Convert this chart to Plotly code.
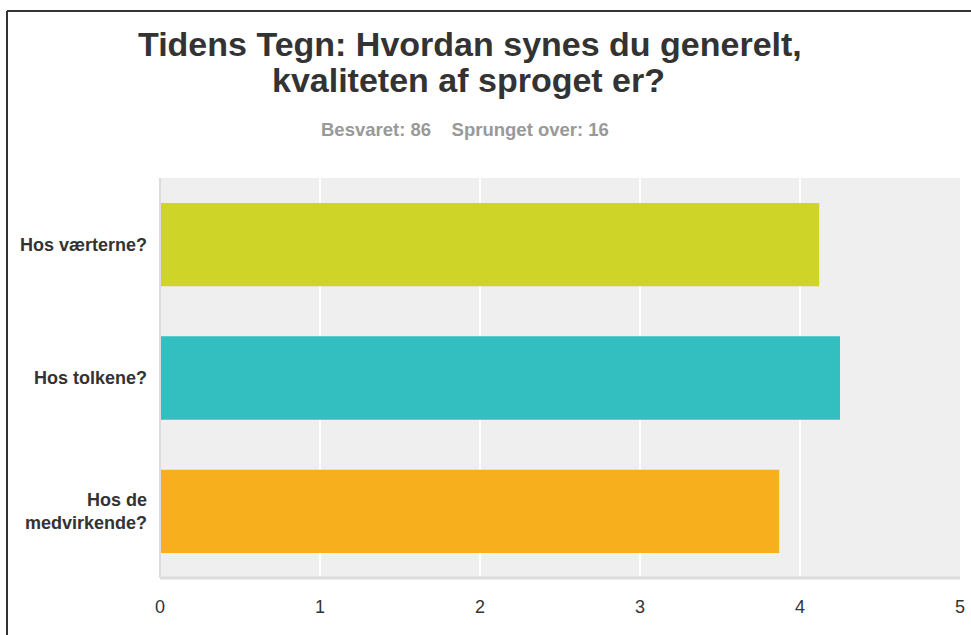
import plotly.graph_objects as go

categories = ["Hos værterne?", "Hos tolkene?", "Hos de<br>medvirkende?"]
values = [4.12, 4.25, 3.87]
colors = ["#cfd428", "#33bec0", "#f7af1e"]
x_ticks = [0, 1, 2, 3, 4, 5]
title_lines = ["Tidens Tegn: Hvordan synes du generelt,", "kvaliteten af sproget er?"]
subtitle = "Besvaret: 86&nbsp;&nbsp;&nbsp;&nbsp;Sprunget over: 16"

W, H = 971, 635
L, R, T, B = 160, 11, 178, 57
pw, ph = W - L - R, H - T - B

def px(x):
    return (x - L) / pw

def py(y):
    return (H - B - y) / ph

fig = go.Figure(go.Bar(
    y=categories, x=values, orientation="h",
    marker=dict(color=colors, line=dict(width=0)),
    hoverinfo="x+y",
))

fig.update_layout(
    width=W, height=H,
    margin=dict(l=L, r=R, t=T, b=B, autoexpand=False),
    paper_bgcolor="white", plot_bgcolor="#efefef",
    font=dict(family="Liberation Sans, Arial, sans-serif", color="#333333"),
    bargap=0.375,
    showlegend=False,
    xaxis=dict(range=[0, 5], tickvals=x_ticks, showgrid=True, gridcolor="white", gridwidth=2,
               zeroline=False, showline=False, ticks="", tickfont=dict(size=18, color="#333"),
               ticklabelstandoff=16, fixedrange=True, automargin=False),
    yaxis=dict(autorange="reversed", showgrid=False, zeroline=False, showline=False, ticks="",
               tickfont=dict(size=18, color="#333", weight="bold"), ticklabelstandoff=12,
               fixedrange=True, automargin=False),
    annotations=[
        dict(text="<b>" + title_lines[0] + "</b>",
             x=px(470), y=py(44), xref="paper", yref="paper", showarrow=False,
             xanchor="center", yanchor="middle", font=dict(size=34, color="#333"), align="center"),
        dict(text="<b>" + title_lines[1] + "</b>",
             x=px(468), y=py(80), xref="paper", yref="paper", showarrow=False,
             xanchor="center", yanchor="middle", font=dict(size=34, color="#333"), align="center"),
        dict(text="<b>" + subtitle + "</b>",
             x=px(465), y=py(130), xref="paper", yref="paper", showarrow=False,
             xanchor="center", yanchor="middle", font=dict(size=18.5, color="#999"), align="center"),
    ],
    shapes=[
        dict(type="line", xref="paper", yref="paper", x0=0, x1=1, y0=0, y1=0,
             line=dict(color="#dcdcdc", width=3)),
        dict(type="line", xref="paper", yref="paper", x0=0, x1=0, y0=0, y1=1,
             line=dict(color="#dcdcdc", width=2)),
        dict(type="line", xref="paper", yref="paper", x0=px(7), x1=px(975), y0=py(11), y1=py(11),
             line=dict(color="#333", width=2)),
        dict(type="line", xref="paper", yref="paper", x0=px(7), x1=px(7), y0=py(11), y1=py(640),
             line=dict(color="#333", width=2)),
    ],
)

fig.write_html("out.html", config={"displayModeBar": False},
               post_script="document.body.style.margin='0';document.body.style.overflow='hidden';")
